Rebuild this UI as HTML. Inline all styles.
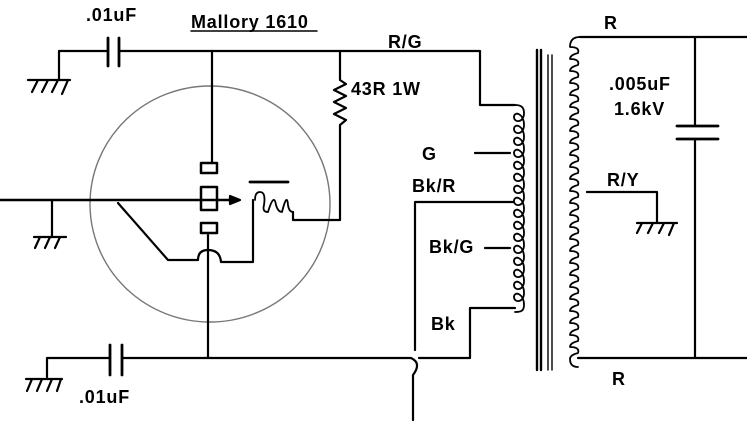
<!DOCTYPE html>
<html><head><meta charset="utf-8"><style>
html,body{margin:0;padding:0;background:#fff;}
svg{display:block;}
text{font-family:"Liberation Sans",Arial,sans-serif;font-weight:bold;font-size:18px;letter-spacing:0.8px;fill:#000;}
</style></head><body>
<svg width="747" height="425" viewBox="0 0 747 425" xmlns="http://www.w3.org/2000/svg">
<g fill="none" stroke="#000" stroke-width="2.2" stroke-linecap="round" stroke-linejoin="round">
<ellipse cx="210" cy="204" rx="120" ry="118" stroke="#777" stroke-width="1.4"/>
<path d="M59 79 V51 H108 M119 51 H480 V105 H515"/>
<path d="M108 38 V66 M119 38 V66" stroke-width="2.8"/>
<path d="M28 80 H70 M32 92 L38 80 M42 92 L48 80 M52 92 L58 80 M62 94 L68 80"/>
<path d="M212 51 V163"/>
<path d="M340 52 V80 L346 84 L334 90 L346 96 L334 102 L346 108 L334 114 L346 120 L340 125 V220 H293 V212"/>
<rect x="201" y="163" width="16" height="10" stroke-width="2.5"/>
<rect x="201" y="187" width="16" height="23" stroke-width="2.5"/>
<rect x="201" y="223" width="16" height="10" stroke-width="2.5"/>
<path d="M0 200 H232" stroke-width="2.6"/>
<path d="M230 196 L240 200 L230 204 Z" fill="#000"/>
<path d="M52 200 V236 M34 237 H66 M35 248 L40 237 M45 248 L50 237 M55 248 L60 237"/>
<path d="M118 203 L168 260 H198 Q198 250 208 250 Q220 250 221 262 H253 V200"/>
<path d="M255 200 Q255 192 260 192 Q266 192 264 205 Q262 212 268 212 Q274 192 276 205 Q278 212 282 212 Q287 192 288 205 Q289 212 293 212" stroke-width="1.8"/>
<path d="M250 182 H288" stroke-width="2.8"/>
<path d="M208 235 V358"/>
<path d="M47 377 V358 H110 M122 358 H411 Q422 363 413 375 V420 M419 358 H470 V308 H515"/>
<path d="M110 345 V375 M122 345 V375" stroke-width="2.8"/>
<path d="M26 379 H62 M27 391 L32 379 M37 391 L42 379 M47 391 L52 379 M57 391 L61 379"/>
<path d="M415 350 V202 H513"/>
<path d="M475 153 H510 M485 248 H510"/>
<!-- primary coil -->
<path d="M515 105 c6 0 9 2 9 8 c0 10 -10 10 -10 4 c0 -6 10 -4 10 8 c0 10 -10 10 -10 4 c0 -6 10 -4 10 8 c0 10 -10 10 -10 4 c0 -6 10 -4 10 8 c0 10 -10 10 -10 4 c0 -6 10 -4 10 8 c0 10 -10 10 -10 4 c0 -6 10 -4 10 8 c0 10 -10 10 -10 4 c0 -6 10 -4 10 8 c0 10 -10 10 -10 4 c0 -6 10 -4 10 8 c0 10 -10 10 -10 4 c0 -6 10 -4 10 8 c0 10 -10 10 -10 4 c0 -6 10 -4 10 8 c0 10 -10 10 -10 4 c0 -6 10 -4 10 8 c0 10 -10 10 -10 4 c0 -6 10 -4 10 8 c0 10 -10 10 -10 4 c0 -6 10 -4 10 8 c0 10 -10 10 -10 4 c0 -6 10 -4 10 8 c0 10 -10 10 -10 4 c0 -6 10 -4 10 8 c0 10 -10 10 -10 4 c0 -6 10 -4 10 8 c0 10 -10 10 -10 4 c0 -6 10 -4 10 8 c0 6 -3 7 -9 7" stroke-width="1.8"/>
<path d="M537 50 V370 M541 50 V370" stroke-width="2.4"/>
<path d="M548 55 V370 M552 55 V370" stroke-width="1.4"/>
<path d="M580 37 q-10 0 -10 10 q10 0 8 6 q-8 2 -8 6 q10 0 8 6 q-8 2 -8 6 q10 0 8 6 q-8 2 -8 6 q10 0 8 6 q-8 2 -8 6 q10 0 8 6 q-8 2 -8 6 q10 0 8 6 q-8 2 -8 6 q10 0 8 6 q-8 2 -8 6 q10 0 8 6 q-8 2 -8 6 q10 0 8 6 q-8 2 -8 6 q10 0 8 6 q-8 2 -8 6 q10 0 8 6 q-8 2 -8 6 q10 0 8 6 q-8 2 -8 6 q10 0 8 6 q-8 2 -8 6 q10 0 8 6 q-8 2 -8 6 q10 0 8 6 q-8 2 -8 6 q10 0 8 6 q-8 2 -8 6 q10 0 8 6 q-8 2 -8 6 q10 0 8 6 q-8 2 -8 6 q10 0 8 6 q-8 2 -8 6 q10 0 8 6 q-8 2 -8 6 q10 0 8 6 q-8 2 -8 6 q10 0 8 6 q-8 2 -8 6 q10 0 8 6 q-8 2 -8 6 q10 0 8 6 q-8 2 -8 6 q10 0 8 6 q-8 2 -8 6 q10 0 8 6 q-8 2 -8 6 q0 8 8 8" stroke-width="1.8"/>
<path d="M580 37 H747 M695 37 V126 M695 139 V358 M578 358 H747"/>
<path d="M677 126 H718 M677 139 H718" stroke-width="2.8"/>
<path d="M587 192 H657 V222 M637 223 H677 M637 233 L642 223 M648 233 L653 223 M659 233 L664 223 M669 235 L674 223"/>
<path d="M191 31 H317" stroke-width="1.5"/>
</g>
<text x="86" y="21">.01uF</text>
<text x="191" y="28">Mallory 1610</text>
<text x="388" y="48">R/G</text>
<text x="351" y="95">43R 1W</text>
<text x="422" y="160">G</text>
<text x="412" y="192">Bk/R</text>
<text x="429" y="253">Bk/G</text>
<text x="431" y="330">Bk</text>
<text x="79" y="403">.01uF</text>
<text x="604" y="29">R</text>
<text x="609" y="90">.005uF</text>
<text x="614" y="115">1.6kV</text>
<text x="607" y="186">R/Y</text>
<text x="612" y="385">R</text>
</svg>
</body></html>
